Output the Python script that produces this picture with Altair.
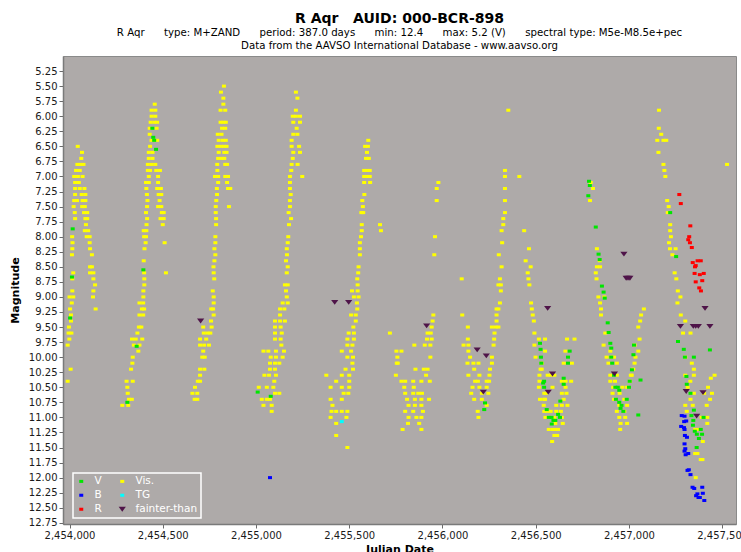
import altair as alt
import pandas as pd

JD_BASE = 2450000

# legend is filled column by column: V, B, R | Vis., TG, fainter-than
BANDS = ["V", "B", "R", "Vis.", "TG", "fainter-than"]
BAND_COLORS = ["#00e600", "#0000ff", "#ff0000", "#ffff00", "#00ffff", "#4f1449"]

# (JD - 2450000, magnitude)
VIS = [
    # cycle 1
    (4044, 6.5), (4067, 6.6), (4063, 6.7), (4042, 6.8), (4058, 6.8), (4075, 6.8), (4035, 6.9), (4055, 6.9),
    (4025, 7.0), (4045, 7.0), (4070, 7.0), (4030, 7.1), (4050, 7.1), (4030, 7.2), (4055, 7.2), (4080, 7.2),
    (4030, 7.3), (4065, 7.3), (4085, 7.3), (4025, 7.4), (4040, 7.4), (4070, 7.4), (4085, 7.4), (4022, 7.5),
    (4068, 7.5), (4082, 7.5), (4028, 7.6), (4078, 7.6), (4095, 7.6), (4030, 7.7), (4085, 7.7), (4095, 7.7),
    (4088, 7.8), (4082, 7.9), (4100, 7.9), (4014, 8.0), (4092, 8.0), (4108, 8.0), (4016, 8.1), (4108, 8.1),
    (4015, 8.2), (4110, 8.2), (4013, 8.3), (4120, 8.3), (4110, 8.5), (4120, 8.5), (4020, 8.6), (4110, 8.6),
    (4128, 8.6), (4015, 8.7), (4128, 8.7), (4137, 8.8), (4128, 8.9), (4015, 8.9), (4126, 9.0), (4000, 9.0),
    (4020, 9.0), (4012, 9.1), (4140, 9.2), (4003, 9.2), (4008, 9.3), (4008, 9.4), (3997, 9.5), (3995, 9.6),
    (4010, 9.6), (3999, 9.7), (3990, 9.8), (4006, 10.2), (3990, 10.4),
    # cycle 2
    (4457, 5.8), (4440, 5.9), (4460, 5.9), (4440, 6.0), (4460, 6.0), (4435, 6.1), (4455, 6.1), (4470, 6.1),
    (4467, 6.2), (4430, 6.2), (4430, 6.3), (4440, 6.4), (4455, 6.4), (4470, 6.4), (4432, 6.5), (4425, 6.6),
    (4445, 6.6), (4425, 6.7), (4445, 6.7), (4420, 6.8), (4440, 6.8), (4460, 6.8), (4420, 6.9), (4432, 6.9),
    (4465, 6.9), (4485, 6.9), (4425, 7.0), (4475, 7.0), (4410, 7.1), (4425, 7.1), (4475, 7.1), (4412, 7.2),
    (4470, 7.2), (4490, 7.2), (4415, 7.3), (4478, 7.3), (4492, 7.3), (4418, 7.4), (4483, 7.4), (4416, 7.5),
    (4475, 7.5), (4492, 7.5), (4410, 7.6), (4495, 7.6), (4505, 7.6), (4416, 7.7), (4488, 7.7), (4505, 7.7),
    (4413, 7.8), (4500, 7.8), (4398, 7.9), (4412, 7.9), (4400, 8.0), (4410, 8.0), (4408, 8.1), (4510, 8.1),
    (4402, 8.2), (4398, 8.4), (4400, 8.6), (4517, 8.6), (4401, 8.7), (4401, 8.8), (4396, 8.9), (4396, 9.0),
    (4375, 9.1), (4395, 9.1), (4388, 9.2), (4400, 9.2), (4375, 9.3), (4395, 9.3), (4372, 9.5), (4385, 9.5),
    (4364, 9.6), (4335, 9.7), (4355, 9.7), (4390, 9.7), (4345, 9.8), (4375, 9.8), (4369, 9.9), (4339, 10.0),
    (4337, 10.1), (4330, 10.2), (4306, 10.4), (4339, 10.4), (4310, 10.5), (4312, 10.6), (4319, 10.7),
    (4334, 10.7), (4283, 10.8), (4315, 10.8),
    # cycle 3
    (4828, 5.5), (4812, 5.6), (4825, 5.7), (4825, 5.8), (4810, 5.9), (4835, 5.9), (4810, 6.1), (4825, 6.1),
    (4838, 6.1), (4818, 6.2), (4835, 6.2), (4795, 6.3), (4815, 6.3), (4800, 6.4), (4822, 6.4), (4838, 6.4),
    (4793, 6.5), (4812, 6.5), (4828, 6.5), (4842, 6.5), (4800, 6.6), (4830, 6.6), (4842, 6.6), (4797, 6.7),
    (4815, 6.7), (4830, 6.7), (4792, 6.8), (4835, 6.8), (4845, 6.8), (4793, 6.9), (4780, 7.0), (4797, 7.0),
    (4835, 7.0), (4850, 7.0), (4797, 7.1), (4845, 7.1), (4790, 7.2), (4850, 7.2), (4862, 7.2), (4791, 7.3),
    (4787, 7.4), (4784, 7.5), (4855, 7.5), (4784, 7.6), (4786, 7.7), (4786, 7.8), (4782, 8.0), (4782, 8.1),
    (4777, 8.2), (4782, 8.3), (4777, 8.4), (4772, 8.5), (4773, 8.6), (4776, 8.7), (4768, 8.9), (4773, 9.0),
    (4773, 9.1), (4760, 9.2), (4770, 9.2), (4773, 9.3), (4759, 9.4), (4717, 9.5), (4762, 9.5), (4720, 9.6),
    (4740, 9.6), (4755, 9.6), (4700, 9.7), (4733, 9.7), (4700, 9.8), (4722, 9.8), (4748, 9.8), (4717, 9.9),
    (4712, 10.0), (4725, 10.0), (4700, 10.2), (4723, 10.2), (4700, 10.3), (4688, 10.4), (4700, 10.4),
    (4673, 10.5), (4659, 10.6), (4685, 10.6), (4671, 10.7), (4685, 10.7),
    # cycle 4
    (5214, 5.6), (5222, 5.7), (5214, 5.9), (5197, 6.0), (5214, 6.0), (5236, 6.0), (5200, 6.1), (5236, 6.1),
    (5218, 6.2), (5200, 6.3), (5222, 6.3), (5191, 6.4), (5191, 6.5), (5231, 6.5), (5200, 6.6), (5236, 6.6),
    (5197, 6.7), (5191, 6.8), (5223, 6.8), (5189, 6.9), (5182, 7.0), (5248, 7.0), (5182, 7.1), (5182, 7.2),
    (5186, 7.3), (5182, 7.4), (5182, 7.5), (5175, 7.6), (5188, 7.7), (5177, 7.8), (5173, 8.0), (5170, 8.1),
    (5165, 8.2), (5166, 8.3), (5161, 8.4), (5170, 8.5), (5165, 8.6), (5155, 8.8), (5170, 8.8), (5161, 8.9),
    (5165, 9.0), (5143, 9.1), (5170, 9.1), (5129, 9.2), (5152, 9.2), (5129, 9.3), (5102, 9.4), (5129, 9.4),
    (5155, 9.4), (5102, 9.5), (5132, 9.5), (5102, 9.6), (5138, 9.6), (5102, 9.7), (5132, 9.7), (5136, 9.8),
    (5040, 9.9), (5066, 9.9), (5107, 9.9), (5150, 9.9), (5079, 10.0), (5107, 10.0), (5143, 10.0),
    (5075, 10.1), (5102, 10.1), (5125, 10.1), (5075, 10.2), (5102, 10.2), (5045, 10.3), (5070, 10.3),
    (5107, 10.3), (5098, 10.4), (5015, 10.5), (5058, 10.5), (5093, 10.5), (5102, 10.6), (5125, 10.6),
    (5031, 10.7), (5058, 10.7), (5075, 10.7), (5040, 10.8), (5084, 10.8), (5084, 10.9),
    # cycle 5
    (5602, 6.4), (5585, 6.5), (5600, 6.5), (5595, 6.6), (5590, 6.7), (5605, 6.7), (5580, 6.9), (5595, 6.9),
    (5610, 6.9), (5580, 7.0), (5595, 7.0), (5610, 7.0), (5580, 7.1), (5612, 7.1), (5581, 7.3), (5570, 7.4),
    (5573, 7.5), (5565, 7.6), (5575, 7.6), (5567, 7.8), (5665, 7.8), (5567, 7.9), (5670, 7.9), (5563, 8.0),
    (5557, 8.1), (5557, 8.2), (5557, 8.3), (5550, 8.5), (5548, 8.6), (5543, 8.7), (5545, 8.8), (5515, 8.9),
    (5545, 8.9), (5525, 9.0), (5550, 9.0), (5541, 9.1), (5543, 9.2), (5510, 9.3), (5535, 9.3), (5535, 9.4),
    (5522, 9.5), (5497, 9.6), (5525, 9.6), (5490, 9.7), (5525, 9.7), (5490, 9.8), (5517, 9.8), (5460, 9.9),
    (5510, 9.9), (5490, 10.0), (5520, 10.0), (5517, 10.1), (5480, 10.2), (5520, 10.2), (5377, 10.3),
    (5460, 10.3), (5500, 10.3), (5430, 10.4), (5500, 10.4), (5400, 10.5), (5460, 10.5), (5500, 10.5),
    (5470, 10.6), (5495, 10.6), (5400, 10.7), (5460, 10.7), (5410, 10.8), (5405, 10.9), (5430, 10.9),
    (5460, 10.9), (5490, 10.9), (5400, 11.0), (5485, 11.0), (5430, 11.1), (5430, 11.3), (5490, 11.5),
    # cycle 6
    (5978, 7.1), (5969, 7.2), (5969, 7.4), (5960, 8.0), (5956, 8.3), (5951, 9.3), (5947, 9.4), (5942, 9.5),
    (5920, 9.6), (5937, 9.6), (5917, 9.7), (5942, 9.7), (5849, 9.8), (5905, 9.8), (5935, 9.8), (5935, 10.0),
    (5758, 10.0), (5760, 10.1), (5855, 10.2), (5900, 10.2), (5920, 10.2), (5750, 10.3), (5912, 10.3),
    (5780, 10.4), (5800, 10.4), (5843, 10.4), (5887, 10.4), (5932, 10.4), (5795, 10.5), (5846, 10.5),
    (5800, 10.6), (5843, 10.6), (5870, 10.6), (5890, 10.6), (5810, 10.7), (5852, 10.7), (5887, 10.7),
    (5928, 10.7), (5818, 10.8), (5852, 10.8), (5887, 10.8), (5800, 10.9), (5843, 10.9), (5895, 10.9),
    (5818, 11.0), (5860, 11.0), (5887, 11.0), (5815, 11.1), (5875, 11.1), (5786, 11.2), (5887, 11.2),
    (5718, 9.6), (5753, 9.9), (5780, 9.9), (5755, 10.1),
    # cycle 7
    (6353, 5.9), (6335, 6.9), (6335, 7.0), (6412, 7.0), (6335, 7.2), (6335, 7.4), (6335, 7.6), (6326, 7.7),
    (6326, 7.8), (6317, 7.9), (6438, 7.9), (6320, 8.1), (6464, 8.2), (6302, 8.3), (6446, 8.4), (6317, 8.5),
    (6473, 8.5), (6308, 8.7), (6103, 8.7), (6300, 8.8), (6313, 8.8), (6313, 8.9), (6308, 9.1), (6290, 9.2),
    (6300, 9.2), (6106, 9.3), (6290, 9.3), (6290, 9.4), (6265, 9.5), (6285, 9.5), (6300, 9.5), (6136, 9.5),
    (6279, 9.6), (6136, 9.7), (6277, 9.7), (6113, 9.8), (6139, 9.8), (6274, 9.8), (6139, 9.9), (6148, 10.0),
    (6265, 10.0), (6134, 10.1), (6166, 10.1), (6193, 10.1), (6265, 10.1), (6170, 10.2), (6255, 10.2),
    (6139, 10.3), (6198, 10.3), (6252, 10.3), (6175, 10.4), (6190, 10.4), (6237, 10.4), (6250, 10.4),
    (6161, 10.5), (6198, 10.5), (6237, 10.5), (6154, 10.6), (6211, 10.6), (6246, 10.6), (6170, 10.7),
    (6211, 10.7), (6237, 10.8), (6189, 10.9), (6193, 11.0),
    # cycle 8
    (6457, 8.6), (6461, 8.7), (6466, 8.8), (6475, 9.1), (6479, 9.2), (6484, 9.3), (6490, 9.4), (6493, 9.6),
    (6517, 9.7), (6550, 9.7), (6493, 9.8), (6499, 10.0), (6526, 10.2), (6520, 10.3), (6564, 10.3),
    (6520, 10.4), (6517, 10.5), (6546, 10.6), (6523, 10.7), (6550, 10.7), (6543, 10.8), (6546, 10.9),
    (6552, 11.0), (6570, 11.2), (6668, 9.7), (6708, 9.7), (6659, 9.9), (6550, 9.9), (6694, 10.1),
    (6650, 10.1), (6532, 10.1), (6532, 10.2), (6600, 10.3), (6580, 10.3), (6640, 10.4), (6660, 10.4),
    (6690, 10.4), (6590, 10.5), (6660, 10.5), (6555, 10.6), (6640, 10.6), (6665, 10.6), (6545, 10.7),
    (6650, 10.7), (6610, 10.8), (6640, 10.8), (6670, 10.8), (6560, 10.9), (6580, 10.9), (6610, 10.9),
    (6635, 10.9), (6575, 11.0), (6600, 11.0), (6640, 11.0), (6605, 11.1), (6645, 11.1), (6590, 11.2),
    (6605, 11.2), (6620, 11.2), (6600, 11.3), (6615, 11.3), (6588, 11.4),
    # cycle 9
    (6795, 7.1), (6807, 7.2), (6791, 7.4), (6828, 8.2), (6828, 8.5), (6845, 8.5), (6843, 8.4), (6822, 8.6),
    (6826, 8.7), (6836, 9.0), (6868, 9.0), (6845, 9.1), (6850, 9.2), (6850, 9.3), (6873, 9.6), (6864, 9.8),
    (6900, 9.9), (6880, 10.0), (6905, 10.0), (6920, 10.0), (6890, 10.1), (6935, 10.1), (6900, 10.3),
    (6935, 10.3), (7010, 10.3), (6900, 10.4), (6925, 10.4), (6915, 10.5), (6965, 10.5), (6990, 10.5),
    (6912, 10.6), (6950, 10.6), (6920, 10.7), (6975, 10.7), (6948, 10.8), (6990, 10.8), (6935, 10.9),
    (6975, 10.9), (6948, 11.0), (6980, 11.0), (6955, 11.1), (6990, 11.1), (6953, 11.2), (7030, 9.8),
    (7050, 9.9), (7035, 10.0), (7030, 10.1), (7023, 10.2), (7015, 10.3), (7005, 10.4), (7057, 9.7),
    (7050, 9.5), (7060, 9.4), (7065, 9.3), (7080, 9.2),
    # cycle 10
    (7161, 5.9), (7160, 6.2), (7173, 6.3), (7152, 6.4), (7185, 6.4), (7200, 6.4), (7158, 6.6), (7185, 6.8),
    (7190, 6.9), (7195, 7.0), (7205, 7.4), (7213, 7.5), (7208, 7.6), (7221, 7.8), (7221, 7.9), (7225, 8.0),
    (7215, 8.1), (7220, 8.2), (7250, 8.2), (7233, 8.3), (7526, 6.8), (7245, 8.6), (7254, 8.7), (7262, 8.9),
    (7276, 9.0), (7260, 9.1), (7278, 9.3), (7302, 9.4), (7290, 9.6), (7330, 9.6), (7302, 10.0), (7337, 10.1),
    (7348, 10.2), (7329, 10.4), (7302, 10.3), (7348, 10.3), (7439, 10.35), (7459, 10.3), (7424, 10.5),
    (7445, 10.6), (7435, 10.7), (7417, 10.8), (7342, 10.8), (7302, 10.8), (7348, 10.6), (7403, 10.6),
    (7390, 11.0), (7420, 11.0), (7420, 11.1), (7355, 11.2), (7380, 11.2), (7396, 11.4), (7367, 11.6),
    (7394, 11.7), (7358, 12.0), (7364, 11.2), (7385, 11.7), (7355, 11.6), (7315, 10.5), (7330, 10.7),
    (7310, 10.9),
]

V_PTS = [
    (4017, 7.87), (4013, 8.67), (4003, 9.35), (4444, 6.2), (4449, 6.35), (4454, 6.4), (4464, 6.55),
    (4396, 8.55), (4360, 9.82), (4310, 10.75), (5009, 10.58), (5079, 10.65), (6228, 10.76), (6224, 10.87),
    (6523, 9.77), (6526, 9.87), (6528, 10.0), (6530, 10.1), (6540, 10.43), (6559, 10.87), (6570, 11.0),
    (6682, 9.9), (6673, 10.0), (6673, 10.1), (6650, 10.35), (6650, 10.45), (6545, 10.4), (6545, 10.5),
    (6632, 10.73), (6620, 10.95), (6585, 11.0), (6595, 11.05), (6605, 11.05), (6630, 11.0), (6586, 11.11),
    (6786, 7.08), (6790, 7.15), (6782, 7.32), (6822, 7.84), (6837, 8.29), (6843, 8.38), (6855, 8.82),
    (6864, 8.92), (6870, 9.02), (6886, 9.43), (6891, 9.59), (6900, 9.77), (6905, 9.85), (6905, 10.0),
    (6910, 10.1), (6920, 10.3), (6927, 10.5), (6940, 10.5), (6948, 10.55), (6930, 10.7), (6948, 10.75),
    (6960, 10.8), (6955, 10.85), (6970, 10.9), (7050, 10.96), (7027, 9.8), (7024, 9.96), (7016, 10.21),
    (7004, 10.4), (7000, 10.5), (6988, 10.7), (7062, 10.38), (7221, 7.6), (7253, 8.33), (7263, 9.74),
    (7294, 9.87), (7300, 10.0), (7348, 10.0), (7434, 9.88), (7308, 10.32), (7310, 10.45), (7348, 10.88),
    (7335, 10.97), (7343, 11.13), (7353, 11.23), (7364, 11.28), (7392, 11.28), (7363, 11.5), (7375, 11.35),
    (7385, 11.2), (7345, 11.05), (7330, 10.6), (7400, 11.0),
]

B_PTS = [
    (5075, 12.0), (7283, 10.97), (7296, 11.07), (7298, 10.98), (7307, 11.06), (7280, 11.15), (7295, 11.17),
    (7298, 11.2), (7311, 11.33), (7300, 11.3), (7298, 11.44), (7302, 11.52), (7298, 11.56), (7318, 11.6),
    (7304, 11.62), (7321, 11.87), (7314, 11.88), (7330, 11.95), (7350, 12.18), (7341, 12.16), (7393, 12.16),
    (7396, 12.26), (7367, 12.27), (7380, 12.33), (7404, 12.38), (7373, 12.33), (7360, 12.3),
]

R_PTS = [
    (7270, 7.3), (7278, 7.45), (7329, 7.82), (7323, 8.0), (7318, 8.05), (7327, 8.1), (7337, 8.18),
    (7342, 8.43), (7385, 8.4), (7358, 8.48), (7354, 8.5), (7368, 8.4), (7352, 8.61), (7401, 8.61),
    (7380, 8.63), (7358, 8.75), (7393, 8.73), (7377, 8.85), (7386, 8.9),
]

TG_PTS = [(5460, 11.07)]

FAINTER = [
    (4703, 9.4), (5422, 9.09), (5497, 9.09), (5915, 9.48), (6186, 9.88), (6235, 9.98), (6219, 10.58),
    (6564, 9.19), (6567, 10.58), (6590, 10.28), (6973, 8.29), (6985, 8.69), (6995, 8.69), (7005, 8.69),
    (6922, 10.28), (7276, 9.49), (7345, 9.49), (7358, 9.49), (7372, 9.49), (7434, 9.49), (7408, 9.19),
    (7307, 10.57), (7397, 10.59), (7363, 10.98),
]

X_TICKS = [2454000, 2454500, 2455000, 2455500, 2456000, 2456500, 2457000, 2457500]
Y_TICKS = [5.25, 5.5, 5.75, 6.0, 6.25, 6.5, 6.75, 7.0, 7.25, 7.5, 7.75, 8.0, 8.25, 8.5, 8.75, 9.0,
           9.25, 9.5, 9.75, 10.0, 10.25, 10.5, 10.75, 11.0, 11.25, 11.5, 11.75, 12.0, 12.25, 12.5, 12.75]

rows = []
for band, pts in [("Vis.", VIS), ("V", V_PTS), ("B", B_PTS), ("R", R_PTS), ("TG", TG_PTS),
                  ("fainter-than", FAINTER)]:
    for d, m in pts:
        rows.append({"jd": JD_BASE + d, "mag": m, "band": band})
df = pd.DataFrame(rows)

# symbol paths drawn at a common mark size of 64 (unit = 4 px)
SQUARE = "M-0.5,-0.38L0.5,-0.38L0.5,0.38L-0.5,0.38Z"
TRI = "M-0.9,-0.6L0.9,-0.6L0,0.6Z"
shapes = [SQUARE, SQUARE, SQUARE, SQUARE, SQUARE, TRI]

leg = alt.Legend(
    title=None, orient="none", legendX=10, legendY=417, columns=2,
    strokeColor="white", padding=3, labelColor="white", labelFont="DejaVu Sans",
    labelFontSize=10.5, labelOffset=8, rowPadding=3, columnPadding=15,
    symbolStrokeWidth=0, symbolOpacity=1, symbolSize=64,
)

sp = "\u00a0"
g = sp * 6
subtitle1 = (f"R Aqr{g}type: M+ZAND{g}period: 387.0 days{g}min: 12.4{g}"
             f"max: 5.2 (V){g}spectral type: M5e-M8.5e+pec")
subtitle2 = "Data from the AAVSO International Database - www.aavso.org"

chart = alt.Chart(df).mark_point(filled=True, opacity=1, strokeWidth=0, size=64).encode(
    x=alt.X("jd:Q", scale=alt.Scale(domain=[2453965, 2457574], nice=False, zero=False),
            axis=alt.Axis(values=X_TICKS, format=",d", title="Julian Date", grid=False)),
    y=alt.Y("mag:Q", scale=alt.Scale(domain=[5.0, 12.77], reverse=True, nice=False, zero=False),
            axis=alt.Axis(values=Y_TICKS, format=".2f", title="Magnitude", grid=False)),
    color=alt.Color("band:N", scale=alt.Scale(domain=BANDS, range=BAND_COLORS), legend=leg),
    shape=alt.Shape("band:N", scale=alt.Scale(domain=BANDS, range=shapes), legend=leg),
).properties(
    width=673, height=468,
    autosize=alt.AutoSizeParams(type="none"),
    padding={"left": 63, "top": 56, "right": 5, "bottom": 28},
    title=alt.TitleParams(
        text="R Aqr\u00a0\u00a0\u00a0AUID: 000-BCR-898", subtitle=[subtitle1, subtitle2],
        font="DejaVu Sans", fontSize=14, fontWeight="bold", color="black",
        subtitleFont="DejaVu Sans", subtitleFontSize=10.2, subtitleColor="black",
        subtitlePadding=2, subtitleLineHeight=13, anchor="middle", offset=5,
    ),
).configure(background="white").configure_view(
    fill="#aeaaa9", stroke="#8a8a8a", strokeWidth=1
).configure_axis(
    labelFont="DejaVu Sans", labelFontSize=10, labelColor="#1a1a1a",
    titleFont="DejaVu Sans", titleFontSize=11, titleFontWeight="bold", titleColor="black",
    tickColor="#6a6a6a", tickSize=4, domainColor="#7a7a7a", domainWidth=1.5, labelPadding=2,
).configure_axisY(titlePadding=8).configure_axisX(titlePadding=3).configure_legend(
    strokeWidth=1.5
)

chart.save("out.html", embed_options={"renderer": "svg", "actions": False})
